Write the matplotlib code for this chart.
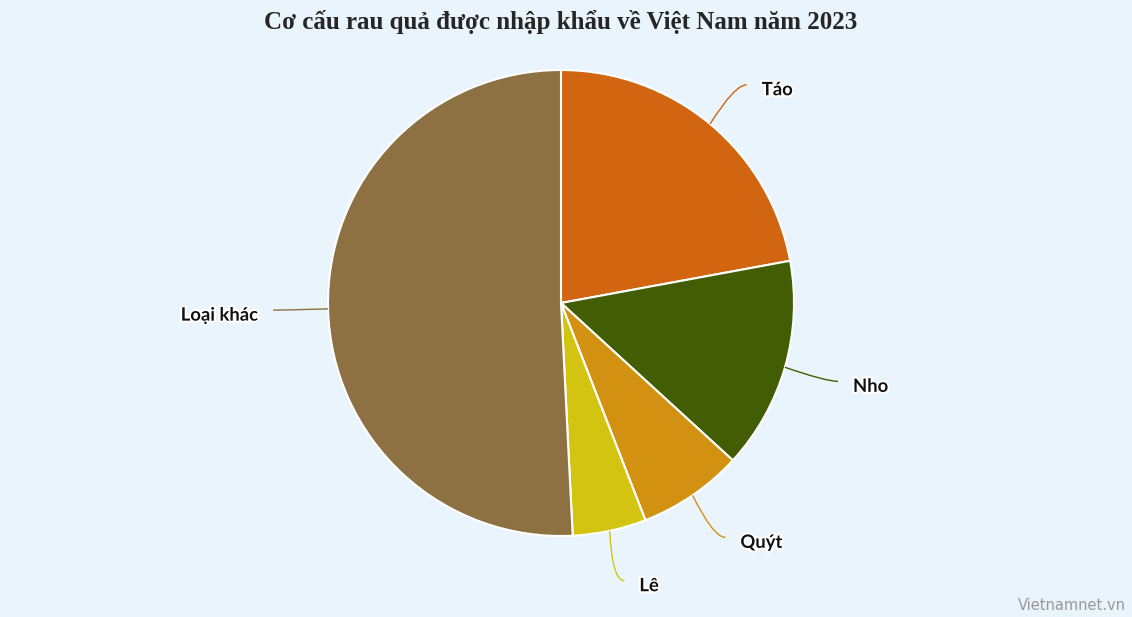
import numpy as np
import matplotlib
matplotlib.use("Agg")
from matplotlib import pyplot as plt
from matplotlib.path import Path
from matplotlib.patches import PathPatch
import matplotlib.patheffects as pe

labels = ["Táo", "Nho", "Quýt", "Lê", "Loại khác"]
shares = [22.1, 14.7, 7.3, 5.1, 50.8]
colors = ["#D26510", "#435D04", "#D29110", "#D4C412", "#8E7142"]

title = "Cơ cấu rau quả được nhập khẩu về Việt Nam năm 2023"
bg = "#EAF4FD"

W, H = 1132, 617
fig = plt.figure(figsize=(W / 100, H / 100), dpi=100, facecolor=bg)
ax = fig.add_axes([0, 0, 1, 1])
ax.set_facecolor(bg)

cx, cy, r = 561, H - 303, 233
wedges, _ = ax.pie(shares, colors=colors, startangle=90, counterclock=False,
                   center=(cx, cy), radius=r, frame=True,
                   wedgeprops=dict(edgecolor="white", linewidth=1.5))
ax.set_xlim(0, W)
ax.set_ylim(0, H)
ax.axis("off")

halo = [pe.withStroke(linewidth=3, foreground="white")]
for w, lab, col in zip(wedges, labels, colors):
    mid = np.deg2rad((w.theta1 + w.theta2) / 2)
    sx, sy = cx + r * np.cos(mid), cy + r * np.sin(mid)
    ex, ey = cx + 284 * np.cos(mid), cy + 284 * np.sin(mid)
    side = 1 if np.cos(mid) >= 0 else -1
    ex += 4 * side
    ctrl = (ex - 12 * side, ey)
    path = Path([(sx, sy), ctrl, (ex, ey)], [Path.MOVETO, Path.CURVE3, Path.CURVE3])
    ax.add_patch(PathPatch(path, fill=False, edgecolor=col, linewidth=1))
    ax.text(ex + 15 * side, ey - 5, lab, ha="left" if side > 0 else "right",
            va="center", fontsize=13.3, fontweight="bold", family="Lato",
            color="#111111", path_effects=halo)

fig.text(561 / W, 1 - 22 / H, title, ha="center", va="center",
         fontsize=18, fontweight="bold", family="Liberation Serif", color="#262626")
fig.text(1126 / W, 1 - 606 / H, "Vietnamnet.vn", ha="right", va="center",
         fontsize=10.5, color="#999999", family="DejaVu Sans")

fig.savefig("out.png", dpi=100, facecolor=bg)
